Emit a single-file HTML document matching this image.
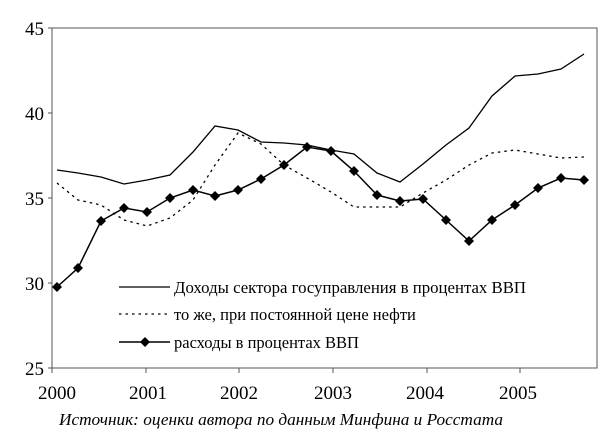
<!DOCTYPE html>
<html><head><meta charset="utf-8"><style>
html,body{margin:0;padding:0;background:#fff;}
svg text{font-family:"Liberation Serif","DejaVu Serif",serif;fill:#000;}
</style></head><body>
<svg width="600" height="439" viewBox="0 0 600 439" xmlns="http://www.w3.org/2000/svg">
<rect x="0" y="0" width="600" height="439" fill="#fff"/>
<g stroke="#555" stroke-width="1" fill="none">
<polyline points="52,368 52,28 597,28 597,368 52,368"/>
<line x1="48" y1="28" x2="52" y2="28"/><line x1="48" y1="113" x2="52" y2="113"/><line x1="48" y1="198" x2="52" y2="198"/><line x1="48" y1="283" x2="52" y2="283"/><line x1="48" y1="368" x2="52" y2="368"/>
<line x1="52" y1="368" x2="52" y2="373"/><line x1="146" y1="368" x2="146" y2="373"/><line x1="239" y1="368" x2="239" y2="373"/><line x1="333" y1="368" x2="333" y2="373"/><line x1="427" y1="368" x2="427" y2="373"/><line x1="520" y1="368" x2="520" y2="373"/>
</g>
<g font-size="19" text-anchor="end">
<text x="44" y="35">45</text><text x="44" y="120">40</text><text x="44" y="205">35</text><text x="44" y="290">30</text><text x="44" y="375">25</text>
</g>
<g font-size="19" text-anchor="middle">
<text x="57" y="399">2000</text><text x="148" y="399">2001</text><text x="239" y="399">2002</text><text x="333" y="399">2003</text><text x="425" y="399">2004</text><text x="518" y="399">2005</text>
</g>
<polyline fill="none" stroke="#000" stroke-width="1.3" points="57,170 78,173 101,177 124,184 147,180 170,175 193,152 215,126 238,130 261,142 284,143 307,145 331,150 354,154 377,173 400,182 423,164 446,145 469,128 492,96 515,76 538,74 561,69 584,54"/>
<polyline fill="none" stroke="#000" stroke-width="1.3" stroke-dasharray="2.5,4" points="57,183 78,200 101,205 124,220 147,226 170,218 193,200 215,165 238,133 261,144 284,165 307,178 331,192 354,207 377,207 400,207 423,193 446,180 469,165 492,153 515,150 538,154 561,158 584,157"/>
<polyline fill="none" stroke="#000" stroke-width="1.5" points="57,287 78,268 101,221 124,208 147,212 170,198 193,190 215,196 238,190 261,179 284,165 307,147 331,151 354,171 377,195 400,201 423,199 446,220 469,241 492,220 515,205 538,188 561,178 584,180"/>
<g fill="#000">
<path d="M0,-5 L5,0 L0,5 L-5,0Z" transform="translate(57,287)"/>
<path d="M0,-5 L5,0 L0,5 L-5,0Z" transform="translate(78,268)"/><path d="M0,-5 L5,0 L0,5 L-5,0Z" transform="translate(101,221)"/><path d="M0,-5 L5,0 L0,5 L-5,0Z" transform="translate(124,208)"/><path d="M0,-5 L5,0 L0,5 L-5,0Z" transform="translate(147,212)"/><path d="M0,-5 L5,0 L0,5 L-5,0Z" transform="translate(170,198)"/><path d="M0,-5 L5,0 L0,5 L-5,0Z" transform="translate(193,190)"/><path d="M0,-5 L5,0 L0,5 L-5,0Z" transform="translate(215,196)"/><path d="M0,-5 L5,0 L0,5 L-5,0Z" transform="translate(238,190)"/><path d="M0,-5 L5,0 L0,5 L-5,0Z" transform="translate(261,179)"/><path d="M0,-5 L5,0 L0,5 L-5,0Z" transform="translate(284,165)"/><path d="M0,-5 L5,0 L0,5 L-5,0Z" transform="translate(307,147)"/><path d="M0,-5 L5,0 L0,5 L-5,0Z" transform="translate(331,151)"/><path d="M0,-5 L5,0 L0,5 L-5,0Z" transform="translate(354,171)"/><path d="M0,-5 L5,0 L0,5 L-5,0Z" transform="translate(377,195)"/><path d="M0,-5 L5,0 L0,5 L-5,0Z" transform="translate(400,201)"/><path d="M0,-5 L5,0 L0,5 L-5,0Z" transform="translate(423,199)"/><path d="M0,-5 L5,0 L0,5 L-5,0Z" transform="translate(446,220)"/><path d="M0,-5 L5,0 L0,5 L-5,0Z" transform="translate(469,241)"/><path d="M0,-5 L5,0 L0,5 L-5,0Z" transform="translate(492,220)"/><path d="M0,-5 L5,0 L0,5 L-5,0Z" transform="translate(515,205)"/><path d="M0,-5 L5,0 L0,5 L-5,0Z" transform="translate(538,188)"/><path d="M0,-5 L5,0 L0,5 L-5,0Z" transform="translate(561,178)"/><path d="M0,-5 L5,0 L0,5 L-5,0Z" transform="translate(584,180)"/>
<path d="M0,-5 L5,0 L0,5 L-5,0Z" transform="translate(145,342)"/>
</g>
<line x1="119" y1="287" x2="170" y2="287" stroke="#000" stroke-width="1.3"/>
<line x1="119" y1="314" x2="170" y2="314" stroke="#000" stroke-width="1.3" stroke-dasharray="2.5,4"/>
<line x1="119" y1="342" x2="170" y2="342" stroke="#000" stroke-width="1.5"/>
<g font-size="16.5">
<text x="174" y="293" textLength="352" lengthAdjust="spacingAndGlyphs">Доходы сектора госуправления в процентах ВВП</text>
<text x="174" y="320">то же, при постоянной цене нефти</text>
<text x="174" y="348">расходы в процентах ВВП</text>
</g>
<text x="59" y="425" font-size="16.5" font-style="italic" textLength="444" lengthAdjust="spacingAndGlyphs">Источник: оценки автора по данным Минфина и Росстата</text>
</svg>
</body></html>
